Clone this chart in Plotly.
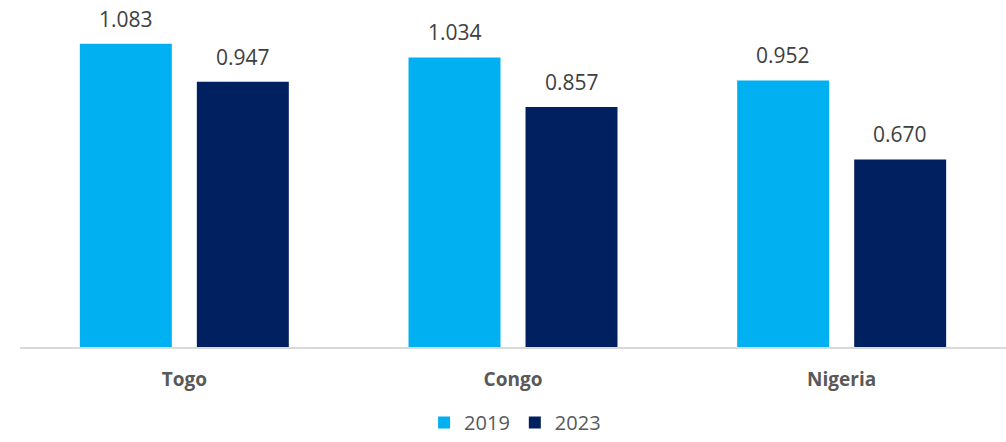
import plotly.graph_objects as go

# Values by country
countries = ["Togo", "Congo", "Nigeria"]
values_2019 = [1.083, 1.034, 0.952]
values_2023 = [0.947, 0.857, 0.670]
series_names = ["2019", "2023"]

color_2019 = "#00B0F0"
color_2023 = "#002060"
label_font = dict(family="Open Sans", size=21, color="#404040")

fig = go.Figure()
fig.add_trace(go.Bar(name=series_names[0], x=countries, y=values_2019,
                     marker=dict(color=color_2019, line=dict(width=0))))
fig.add_trace(go.Bar(name=series_names[1], x=countries, y=values_2023,
                     marker=dict(color=color_2023, line=dict(width=0))))

# Value labels above each bar, shifted to the bar's slot within its group
bar_offset = 58.5
annotations = []
for vals, shift in ((values_2019, -bar_offset), (values_2023, bar_offset)):
    for c, v in zip(countries, vals):
        annotations.append(dict(x=c, y=v, xref="x", yref="y", text=f"{v:.3f}",
                                showarrow=False, yanchor="bottom", xshift=shift,
                                yshift=9, font=label_font))

fig.update_layout(
    width=1006, height=442,
    margin=dict(l=20, r=0, t=11, b=95, autoexpand=False),
    paper_bgcolor="white", plot_bgcolor="white",
    barmode="group", bargap=0.288, bargroupgap=0.214,
    annotations=annotations,
    showlegend=True,
    legend=dict(orientation="h", xref="container", yref="container",
                x=0.512, xanchor="center", y=-0.012, yanchor="bottom",
                font=dict(family="Open Sans", size=20, color="#595959"),
                traceorder="normal"),
    xaxis=dict(showline=True, linecolor="#D9D9D9", linewidth=2, ticks="",
               showgrid=False, zeroline=False,
               tickfont=dict(family="Open Sans", size=19, color="#595959", weight="bold"),
               ticklabelstandoff=14),
    yaxis=dict(range=[0, 1.2], visible=False, showgrid=False, zeroline=False),
)

fig.write_html("out.html")
